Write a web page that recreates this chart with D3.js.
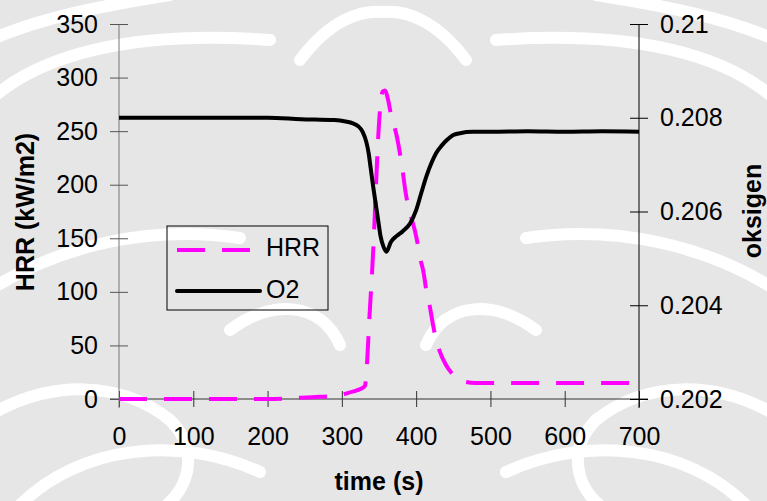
<!DOCTYPE html>
<html>
<head>
<meta charset="utf-8">
<script src="https://cdn.jsdelivr.net/npm/d3@7"></script>
<style>
  body { margin: 0; background: #fff; }
  svg { display: block; font-family: "Liberation Sans", Arial, sans-serif; }
</style>
</head>
<body>
<div id="chart"></div>
<script>
// HRR series (left axis), time in seconds
const hrrTime = [0, 50, 100, 150, 200, 240, 270, 290, 300, 310, 320, 331, 334, 337, 340, 343, 346, 349, 352, 355, 358, 362, 366, 370, 374, 378, 382, 386, 390, 394, 398, 402, 406, 410, 414, 418, 422, 426, 432, 440, 448, 456, 466, 480, 500, 550, 600, 650, 700];
const hrrValue = [0, 0, 0, 0, 0, 1, 2, 3, 4, 6, 8, 12, 35, 75, 110, 150, 200, 245, 275, 287, 288, 280, 266, 256, 245, 230, 212, 192, 178, 168, 158, 145, 130, 118, 100, 88, 72, 58, 44, 32, 24, 19, 16, 15, 15, 15, 15, 15, 15];

// O2 series (right axis)
const o2Time = [0, 100, 200, 245, 290, 305, 315, 322, 328, 333, 336, 339, 342, 346, 349, 352, 356, 360, 366, 374, 382, 392, 400, 407, 414, 421, 427, 434, 441, 450, 459, 476, 500, 550, 600, 650, 700];
const o2Value = [0.20800, 0.20800, 0.20800, 0.20797, 0.20795, 0.20792, 0.20788, 0.20782, 0.20770, 0.20748, 0.20725, 0.20690, 0.20655, 0.20612, 0.20580, 0.20548, 0.20525, 0.20514, 0.20535, 0.20548, 0.20558, 0.20575, 0.20603, 0.20640, 0.20676, 0.20705, 0.20725, 0.20740, 0.20752, 0.20763, 0.20767, 0.20770, 0.20770, 0.20771, 0.20770, 0.20771, 0.20770];

// Tick labels
const xTicks = [0, 100, 200, 300, 400, 500, 600, 700];
const hrrTicks = [0, 50, 100, 150, 200, 250, 300, 350];
const o2Ticks = [0.202, 0.204, 0.206, 0.208, 0.21];

const width = 767;
const height = 501;
const margin = {top: 24, right: 128, bottom: 102, left: 119};

const svg = d3.select("#chart").append("svg")
    .attr("width", width)
    .attr("height", height);

// faint watermark behind the chart (decoration only)
const wm = svg.append("g");
wm.append("rect").attr("width", width).attr("height", height).attr("fill", "#e6e6e6");
const swirls = [
  "M-10,100 C40,55 130,30 270,40",
  "M-10,40 C40,18 100,6 170,-5",
  "M-10,290 C60,245 150,225 240,238",
  "M-10,415 C50,380 120,380 170,420 C200,450 190,490 160,510",
  "M20,505 C80,445 180,435 260,472",
  "M230,330 C270,300 320,300 340,345",
  "M300,60 C330,20 360,10 383,12"
];
[1, -1].forEach(s => {
  wm.append("g")
      .attr("transform", s === 1 ? null : `translate(${2 * 383},0) scale(-1,1)`)
      .attr("fill", "none")
      .attr("stroke", "#fff")
      .attr("stroke-width", 12)
      .attr("stroke-linecap", "round")
    .selectAll("path")
    .data(swirls)
    .join("path")
      .attr("d", d => d);
});

// scales
const x = d3.scaleLinear().domain([0, 700]).range([margin.left, width - margin.right]);
const yL = d3.scaleLinear().domain([0, 350]).range([height - margin.bottom, margin.top]);
const yR = d3.scaleLinear().domain([0.202, 0.21]).range([height - margin.bottom, margin.top]);

// axes: ticks cross the axis line
const xAxis = svg.append("g")
    .attr("transform", `translate(0,${height - margin.bottom})`)
    .call(d3.axisBottom(x).tickValues(xTicks).tickSize(8).tickSizeOuter(0).tickPadding(20));
xAxis.selectAll(".tick line").attr("y1", -8).attr("stroke", "#333");
xAxis.select(".domain").attr("d", `M${margin.left - 9},0H${width - margin.right + 9}`).attr("stroke", "#333");

const leftAxis = svg.append("g")
    .attr("transform", `translate(${margin.left},0)`)
    .call(d3.axisLeft(yL).tickValues(hrrTicks).tickSize(9).tickSizeOuter(0).tickPadding(12));
leftAxis.selectAll(".tick line").attr("x2", -9).attr("x1", 9).attr("stroke", "#555");
leftAxis.select(".domain").attr("d", `M0,${margin.top}V${height - margin.bottom + 9}`).attr("stroke", "#777");

const rightAxis = svg.append("g")
    .attr("transform", `translate(${width - margin.right},0)`)
    .call(d3.axisRight(yR).tickValues(o2Ticks).tickSize(9).tickSizeOuter(0).tickPadding(12)
      .tickFormat(d => String(+d.toFixed(3))));
rightAxis.selectAll(".tick line").attr("x1", -9).attr("x2", 9);
rightAxis.select(".domain").attr("d", `M0,${margin.top}V${height - margin.bottom + 9}`);

svg.selectAll(".tick text")
    .attr("font-size", 25)
    .attr("font-family", "Liberation Sans, Arial, sans-serif")
    .attr("fill", "#000");

// axis titles
svg.append("text")
    .attr("x", (margin.left + width - margin.right) / 2)
    .attr("y", 490)
    .attr("text-anchor", "middle")
    .attr("font-size", 25)
    .attr("font-weight", "bold")
    .text("time (s)");

svg.append("text")
    .attr("transform", `translate(34,212) rotate(-90)`)
    .attr("text-anchor", "middle")
    .attr("font-size", 25)
    .attr("font-weight", "bold")
    .text("HRR (kW/m2)");

svg.append("text")
    .attr("transform", `translate(761,211) rotate(-90)`)
    .attr("text-anchor", "middle")
    .attr("font-size", 25)
    .attr("font-weight", "bold")
    .text("oksigen");

// series lines
const hrrLine = d3.line()
    .x((d, i) => x(hrrTime[i]))
    .y(d => yL(d))
    .curve(d3.curveMonotoneX);

const o2Line = d3.line()
    .x((d, i) => x(o2Time[i]))
    .y(d => yR(d))
    .curve(d3.curveMonotoneX);

svg.append("path")
    .attr("d", hrrLine(hrrValue))
    .attr("fill", "none")
    .attr("stroke", "#ff00ff")
    .attr("stroke-width", 4)
    .attr("stroke-dasharray", "28,17");

svg.append("path")
    .attr("d", o2Line(o2Value))
    .attr("fill", "none")
    .attr("stroke", "#000")
    .attr("stroke-width", 4)
    .attr("stroke-linejoin", "round");

// legend
const legend = svg.append("g").attr("transform", "translate(167,226)");
legend.append("rect")
    .attr("width", 161)
    .attr("height", 84)
    .attr("fill", "none")
    .attr("stroke", "#000")
    .attr("stroke-width", 1);
legend.append("line")
    .attr("x1", 10).attr("x2", 93).attr("y1", 24).attr("y2", 24)
    .attr("stroke", "#ff00ff").attr("stroke-width", 4).attr("stroke-dasharray", "28,17");
legend.append("line")
    .attr("x1", 10).attr("x2", 93).attr("y1", 65).attr("y2", 65)
    .attr("stroke", "#000").attr("stroke-width", 4).attr("stroke-linecap", "round");
legend.append("text").attr("x", 99).attr("y", 30).attr("font-size", 25).text("HRR");
legend.append("text").attr("x", 99).attr("y", 72).attr("font-size", 25).text("O2");
</script>
</body>
</html>
